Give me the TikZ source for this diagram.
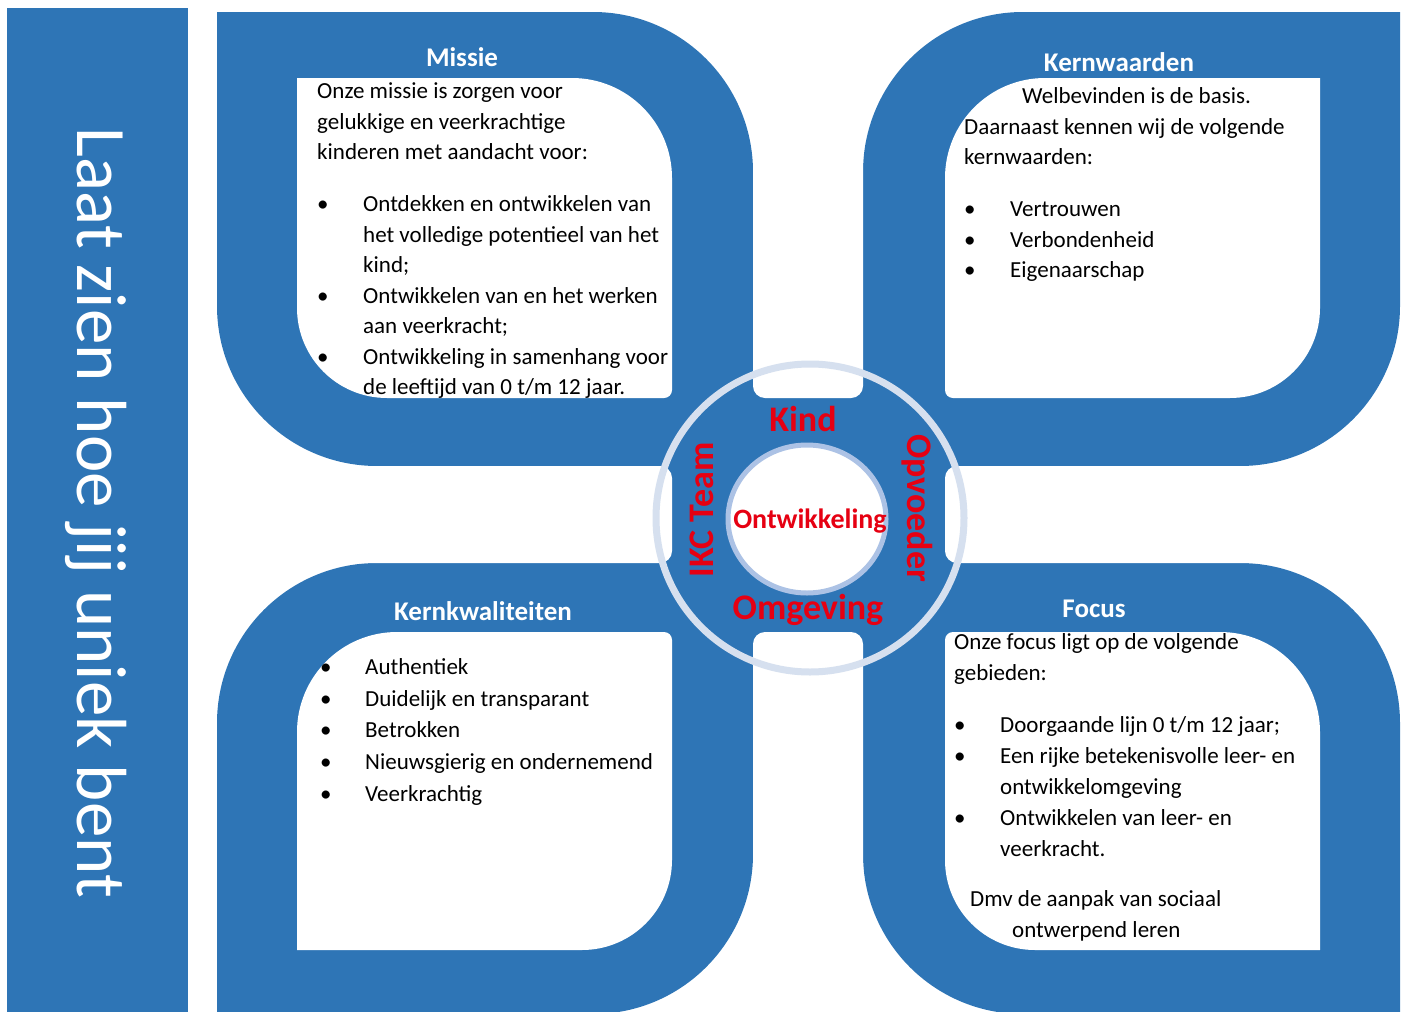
\documentclass[tikz,border=0pt]{standalone}
\usepackage{fontspec}
\setmainfont{Carlito}
\usepackage{array}

\definecolor{ikcblue}{RGB}{46,117,182}
\definecolor{ringgrey}{RGB}{214,224,239}
\definecolor{rimblue}{RGB}{172,194,229}
\definecolor{kernred}{RGB}{230,0,18}

\tikzstyle{vlak} = [fill=ikcblue]
\tikzstyle{kaart} = [fill=white]
\tikzstyle{gat} = [fill=white, rounded corners=12pt]
\tikzstyle{kop} = [
	text=white,
	font=\fontsize{27}{30}\selectfont\bfseries,
	inner sep=0pt
]
\tikzstyle{lijst} = [
	anchor=north west,
	inner sep=0pt,
	font=\fontsize{23}{30.5}\selectfont
]
\tikzstyle{kern} = [
	text=kernred,
	font=\fontsize{36}{40}\selectfont\bfseries,
	inner sep=0pt
]

% rectangle x1 y1 x2 y2 with corner radii: top left, top right, bottom right, bottom left
\newcommand{\hoekvorm}[8]{(#1+#5,#2) -- (#3-#6,#2) arc[start angle=270, end angle=360, radius=#6]
	-- (#3,#4-#7) arc[start angle=0, end angle=90, radius=#7]
	-- (#1+#8,#4) arc[start angle=90, end angle=180, radius=#8]
	-- (#1,#2+#5) arc[start angle=180, end angle=270, radius=#5] -- cycle}
\newcommand{\breed}[1]{\multicolumn{2}{@{}l@{}}{#1}}

\begin{document}
\begin{tikzpicture}[x=1pt, y=-1pt]
	\path[use as bounding box, clip] (0,0) rectangle (1409,1012);
	
	%
	% Side bar
	\fill[vlak] (7,8) rectangle (188,1012);
	\node[rotate=-90, anchor=base, text=white, font=\fontsize{71}{80}\selectfont] (motto) at (77,513) {Laat zien hoe jij uniek bent};
	
	%
	% Blue frames
	\fill[vlak] \hoekvorm{217}{12}{753}{466}{0.1}{160}{0.1}{160};
	\fill[vlak] \hoekvorm{863}{12}{1400}{466}{160}{0.1}{160}{0.1};
	\fill[vlak] \hoekvorm{217}{563}{753}{1014}{160}{0.1}{160}{0.1};
	\fill[vlak] \hoekvorm{863}{563}{1400}{1014}{0.1}{160}{0.1}{160};
	\fill[vlak] (640,360) rectangle (975,670);
	
	% gaps between the frames
	\fill[gat] (753,-20) rectangle (863,398);
	\fill[gat] (753,632) rectangle (863,1040);
	\fill[gat] (200,466) rectangle (672,563);
	\fill[gat] (945,466) rectangle (1430,563);
	
	%
	% White cards
	\fill[kaart] \hoekvorm{297}{78}{672}{398}{0.1}{100}{8}{90};
	\fill[kaart] \hoekvorm{945}{78}{1320}{398}{100}{0.1}{90}{8};
	\fill[kaart] \hoekvorm{297}{632}{672}{950}{100}{8}{90}{0.1};
	\fill[kaart] \hoekvorm{945}{632}{1320}{950}{8}{100}{0.1}{90};
	
	%
	% Centre
	\draw[ringgrey, line width=7pt] (810,518) circle[radius=154];
	\draw[rimblue, fill=white, line width=5pt] (807,519) ellipse[x radius=79, y radius=74];
	
	\node[kern, anchor=base] (kind) at (803,431) {Kind};
	\node[kern, anchor=base] (omgeving) at (808,619) {Omgeving};
	\node[kern, rotate=90] (team) at (702,510) {IKC Team};
	\node[kern, rotate=-90] (opvoeder) at (917,508) {Opvoeder};
	\node[kern, anchor=base, font=\fontsize{28}{32}\selectfont\bfseries] (ontwikkeling) at (810,528) {Ontwikkeling};
	
	%
	% Titles
	\node[kop] (missie) at (462,57) {Missie};
	\node[kop] (kernwaarden) at (1119,62) {Kernwaarden};
	\node[kop] (kernkwaliteiten) at (483,611) {Kernkwaliteiten};
	\node[kop] (focus) at (1094,609) {Focus};
	
	%
	% Card texts
	\node[lijst] (missietekst) at (317,77) {\begin{tabular}{@{}p{46pt}@{}l@{}}
		\breed{Onze missie is zorgen voor}\\
		\breed{gelukkige en veerkrachtige}\\
		\breed{kinderen met aandacht voor:}\\[21.5pt]
		\textbullet & Ontdekken en ontwikkelen van\\
		& het volledige potentieel van het\\
		& kind;\\
		\textbullet & Ontwikkelen van en het werken\\
		& aan veerkracht;\\
		\textbullet & Ontwikkeling in samenhang voor\\
		& de leeftijd van 0 t/m 12 jaar.
	\end{tabular}};
	
	\node[lijst] (waardentekst) at (964,82) {\begin{tabular}{@{}p{46pt}@{}l@{}}
		\breed{\hspace*{58pt}Welbevinden is de basis.}\\
		\breed{Daarnaast kennen wij de volgende}\\
		\breed{kernwaarden:}\\[21.5pt]
		\textbullet & Vertrouwen\\
		\textbullet & Verbondenheid\\
		\textbullet & Eigenaarschap
	\end{tabular}};
	
	\node[lijst, font=\fontsize{23}{31.75}\selectfont] (kwaliteitentekst) at (320,652) {\begin{tabular}{@{}p{45pt}@{}l@{}}
		\textbullet & Authentiek\\
		\textbullet & Duidelijk en transparant\\
		\textbullet & Betrokken\\
		\textbullet & Nieuwsgierig en ondernemend\\
		\textbullet & Veerkrachtig
	\end{tabular}};
	
	\node[lijst, font=\fontsize{23}{31}\selectfont] (focustekst) at (954,628) {\begin{tabular}{@{}p{46pt}@{}l@{}}
		\breed{Onze focus ligt op de volgende}\\
		\breed{gebieden:}\\[21pt]
		\textbullet & Doorgaande lijn 0 t/m 12 jaar;\\
		\textbullet & Een rijke betekenisvolle leer- en\\
		& ontwikkelomgeving\\
		\textbullet & Ontwikkelen van leer- en\\
		& veerkracht.\\[19pt]
		\breed{\hspace*{16pt}Dmv de aanpak van sociaal}\\
		\breed{\hspace*{58pt}ontwerpend leren}
	\end{tabular}};
	
\end{tikzpicture}
\end{document}
